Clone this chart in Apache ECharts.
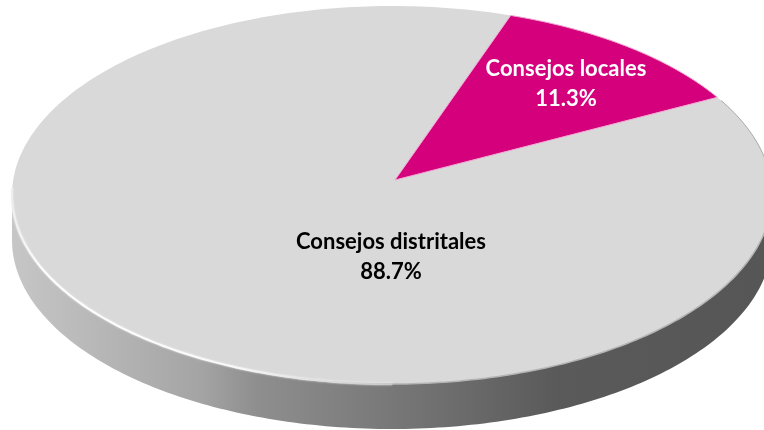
<!DOCTYPE html>
<html><head><meta charset="utf-8">
<style>html,body{margin:0;padding:0;background:#fff}#c{width:764px;height:430px}</style>
<script src="https://cdn.jsdelivr.net/npm/echarts@6/dist/echarts.min.js"></script>
</head><body><div id="c"></div>
<script>
const categories = ['Consejos locales', 'Consejos distritales'];
const shares = [11.3, 88.7];
const sliceColors = ['#d4007c', '#d9d9d9'];
const labelColors = ['#ffffff', '#000000'];

const E = {cx: 392, cy: 195, a: 380, b: 189, depth: 45, apexX: 395, apexY: 180, startDeg: 18.2};
function pt(deg, dy) {
  const r = deg * Math.PI / 180;
  return [E.cx + E.a * Math.sin(r), E.cy - E.b * Math.cos(r) + (dy || 0)];
}
function arc(d0, d1, dy) {
  const out = [], n = Math.max(2, Math.ceil(Math.abs(d1 - d0)));
  for (let i = 0; i <= n; i++) out.push(pt(d0 + (d1 - d0) * i / n, dy));
  return out;
}
const chart = echarts.init(document.getElementById('c'), null, {renderer: 'canvas'});
const labelPos = [[566, 84], [391, 257]];

chart.setOption({
  animation: false,
  backgroundColor: '#fff',
  series: [{
    type: 'custom',
    coordinateSystem: 'none',
    silent: true,
    z: 1,
    data: [0],
    renderItem() {
      const band = arc(90, 270).concat(arc(270, 90, E.depth));
      return {
        type: 'group',
        children: [{
          type: 'polygon',
          shape: {points: band},
          style: {fill: {type: 'linear', x: 13, y: 0, x2: 767, y2: 0, global: true, colorStops: [
            {offset: 0, color: '#c6c6c6'}, {offset: 0.12, color: '#b6b6b6'},
            {offset: 0.25, color: '#a4a4a4'}, {offset: 0.32, color: '#8f8f8f'},
            {offset: 0.5, color: '#787878'}, {offset: 0.72, color: '#5a5a5a'},
            {offset: 1, color: '#565656'}]}}
        }]
      };
    }
  }, {
    type: 'custom',
    coordinateSystem: 'none',
    silent: true,
    z: 2,
    data: categories.map((c, i) => [i, shares[i]]),
    renderItem(params, api) {
      const i = api.value(0);
      let before = 0;
      for (let k = 0; k < i; k++) before += shares[k];
      const d0 = E.startDeg + before * 3.6, d1 = d0 + api.value(1) * 3.6;
      const pts = [[E.apexX, E.apexY]].concat(arc(d0, d1));
      return {
        type: 'group',
        children: [{
          type: 'polygon',
          z2: i === 0 ? 2 : 1,
          shape: {points: pts},
          style: {fill: sliceColors[i], stroke: i === 0 ? '#f3a6d2' : sliceColors[i], lineWidth: i === 0 ? 1 : 0}
        }, {
          type: 'text',
          z2: 5,
          x: labelPos[i][0], y: labelPos[i][1],
          style: {
            text: categories[i] + '\n' + api.value(1).toFixed(1) + '%',
            fill: labelColors[i],
            font: 'bold 22px Lato',
            lineHeight: 30,
            align: 'center',
            verticalAlign: 'middle'
          }
        }]
      };
    }
  }, {
    type: 'custom',
    coordinateSystem: 'none',
    silent: true,
    z: 3,
    data: [0],
    renderItem() {
      return {
        type: 'group',
        children: [{
          type: 'polyline',
          shape: {points: arc(180, 90)},
          style: {fill: 'none', lineWidth: 1.5, stroke: '#b4b4b4'}
        }, {
          type: 'polyline',
          shape: {points: arc(272, 180)},
          style: {fill: 'none', lineWidth: 2, shadowBlur: 2, shadowColor: '#f4f4f4',
            stroke: {type: 'linear', x: 13, y: 0, x2: 390, y2: 0, global: true, colorStops: [
              {offset: 0, color: '#eeeeee'}, {offset: 0.08, color: '#ffffff'},
              {offset: 0.6, color: '#f8f8f8'}, {offset: 1, color: '#c8c8c8'}]}}
        }, {
          type: 'polyline',
          shape: {points: arc(60, 85)},
          style: {fill: 'none', lineWidth: 1, stroke: '#a8a8a8'}
        }]
      };
    }
  }]
});
</script></body></html>
